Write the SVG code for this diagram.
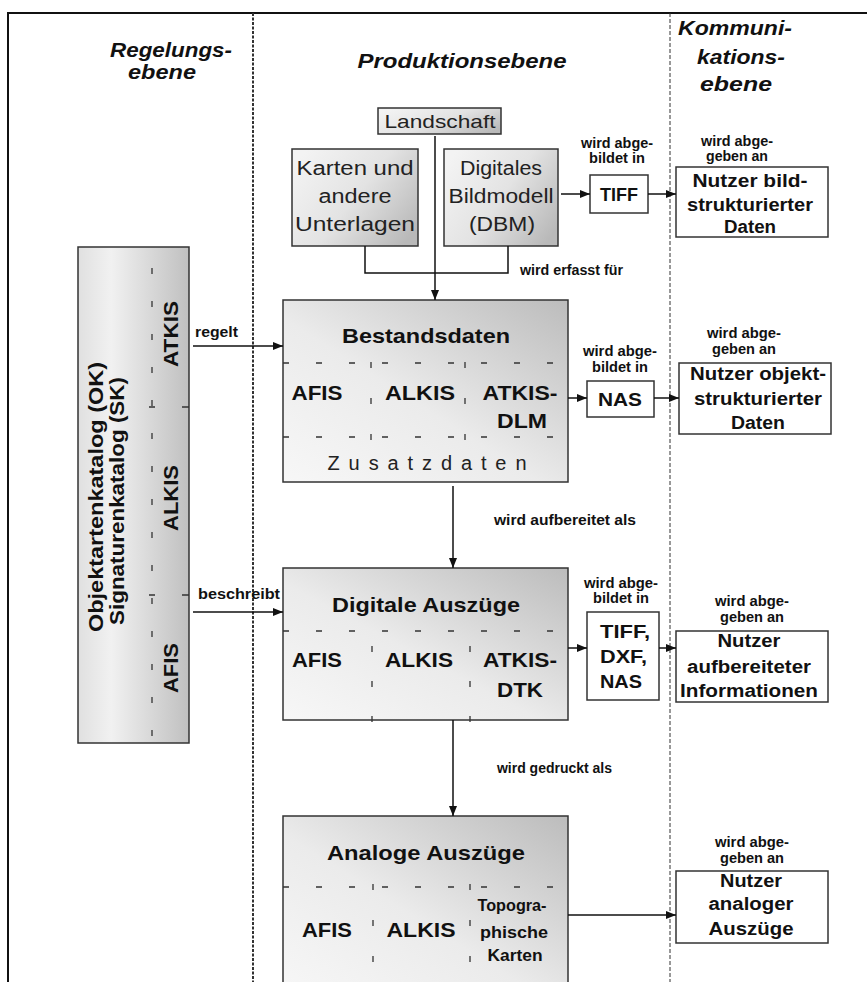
<svg xmlns="http://www.w3.org/2000/svg" width="867" height="982" viewBox="0 0 867 982">
<defs>
<linearGradient id="gDiag" x1="0" y1="1" x2="1" y2="0">
<stop offset="0" stop-color="#f7f7f7"/>
<stop offset="0.45" stop-color="#ebebeb"/>
<stop offset="1" stop-color="#bcbcbc"/>
</linearGradient>
<linearGradient id="gSmall" x1="0" y1="0.2" x2="1" y2="0.8">
<stop offset="0" stop-color="#f3f3f3"/>
<stop offset="0.5" stop-color="#e3e3e3"/>
<stop offset="1" stop-color="#b9b9b9"/>
</linearGradient>
<linearGradient id="gLeft" x1="0" y1="0" x2="1" y2="0">
<stop offset="0" stop-color="#e0e0e0"/>
<stop offset="0.3" stop-color="#f1f1f1"/>
<stop offset="1" stop-color="#c0c0c0"/>
</linearGradient>
<marker id="arr" markerWidth="10" markerHeight="8" refX="10" refY="4" orient="auto" markerUnits="userSpaceOnUse">
<path d="M0,0 L10,4 L0,8 Z" fill="#111"/>
</marker>
</defs>
<style>
text{font-family:'Liberation Sans',Arial,sans-serif;fill:#111}
.hdr{font-size:20px;font-weight:bold;font-style:italic}
.ttl{font-size:21px;font-weight:bold}
.col{font-size:21px;font-weight:bold}
.reg{font-size:20px;fill:#222}
.lbl{font-size:14px;font-weight:bold}
.usr{font-size:18px;font-weight:bold}
.fmt{font-size:19px;font-weight:bold}
.topo{font-size:16px;font-weight:bold}
.box{stroke:#333;stroke-width:1.5}
.w{fill:#fff}
.conn path{fill:none;stroke:#111;stroke-width:1.5}
.dash{fill:none;stroke:#333;stroke-width:1.3;stroke-dasharray:6 27}
.tick{fill:none;stroke:#333;stroke-width:1.3}
</style>
<rect width="867" height="982" fill="#fff"/>
<g id="frame">
<path d="M8 982 V13 H867" fill="none" stroke="#111" stroke-width="2"/>
<path d="M253 13 V982" fill="none" stroke="#333" stroke-width="2" stroke-dasharray="3 1.5"/>
<path d="M670 13 V982" fill="none" stroke="#333" stroke-width="1" stroke-dasharray="4 2"/>
</g>
<g id="headers">
<text class="hdr" x="171" y="57" text-anchor="middle" textLength="122" lengthAdjust="spacingAndGlyphs">Regelungs-</text>
<text class="hdr" x="162" y="79" text-anchor="middle" textLength="68" lengthAdjust="spacingAndGlyphs">ebene</text>
<text class="hdr" x="462" y="68" text-anchor="middle" textLength="209" lengthAdjust="spacingAndGlyphs">Produktionsebene</text>
<text class="hdr" x="735" y="35" text-anchor="middle" textLength="114" lengthAdjust="spacingAndGlyphs">Kommuni-</text>
<text class="hdr" x="741" y="64" text-anchor="middle" textLength="88" lengthAdjust="spacingAndGlyphs">kations-</text>
<text class="hdr" x="736" y="91" text-anchor="middle" textLength="72" lengthAdjust="spacingAndGlyphs">ebene</text>
</g>
<g id="kataloge">
<rect x="78" y="247" width="111" height="496" fill="url(#gLeft)" class="box"/>
<path class="dash" d="M152 268 V748"/>
<path class="tick" d="M182 407 H189 M149 407 H155 M182 595 H189 M149 595 H155"/>
<text class="col" x="103" y="497" text-anchor="middle" transform="rotate(-90 103 497)" textLength="270" lengthAdjust="spacingAndGlyphs">Objektartenkatalog (OK)</text>
<text class="col" x="124" y="501" text-anchor="middle" transform="rotate(-90 124 501)" textLength="248" lengthAdjust="spacingAndGlyphs">Signaturenkatalog (SK)</text>
<text class="col" x="178" y="334" text-anchor="middle" transform="rotate(-90 178 334)" textLength="66" lengthAdjust="spacingAndGlyphs">ATKIS</text>
<text class="col" x="178" y="498" text-anchor="middle" transform="rotate(-90 178 498)" textLength="66" lengthAdjust="spacingAndGlyphs">ALKIS</text>
<text class="col" x="178" y="668" text-anchor="middle" transform="rotate(-90 178 668)" textLength="50" lengthAdjust="spacingAndGlyphs">AFIS</text>
</g>
<g id="landschaft">
<rect x="378" y="108" width="123" height="26" fill="url(#gSmall)" class="box"/>
<text class="reg" style="font-size:19px" x="440" y="128" text-anchor="middle" textLength="111" lengthAdjust="spacingAndGlyphs">Landschaft</text>
</g>
<g id="karten">
<rect x="292" y="149" width="126" height="97" fill="url(#gSmall)" class="box"/>
<text class="reg" x="355" y="175" text-anchor="middle" textLength="117" lengthAdjust="spacingAndGlyphs">Karten und</text>
<text class="reg" x="355" y="203" text-anchor="middle" textLength="73" lengthAdjust="spacingAndGlyphs">andere</text>
<text class="reg" x="355" y="231" text-anchor="middle" textLength="120" lengthAdjust="spacingAndGlyphs">Unterlagen</text>
</g>
<g id="dbm">
<rect x="444" y="149" width="114" height="97" fill="url(#gSmall)" class="box"/>
<text class="reg" x="501" y="175" text-anchor="middle" textLength="82" lengthAdjust="spacingAndGlyphs">Digitales</text>
<text class="reg" x="501" y="203" text-anchor="middle" textLength="105" lengthAdjust="spacingAndGlyphs">Bildmodell</text>
<text class="reg" x="502" y="231" text-anchor="middle" textLength="66" lengthAdjust="spacingAndGlyphs">(DBM)</text>
</g>
<g id="tiff1">
<rect x="590" y="175" width="58" height="38" class="box w"/>
<text class="fmt" x="619" y="201" text-anchor="middle" textLength="38" lengthAdjust="spacingAndGlyphs">TIFF</text>
</g>
<g id="nutzer-bild">
<rect x="676" y="167" width="152" height="70" class="box w"/>
<text class="usr" x="750" y="187" text-anchor="middle" textLength="115" lengthAdjust="spacingAndGlyphs">Nutzer bild-</text>
<text class="usr" x="750" y="211" text-anchor="middle" textLength="126" lengthAdjust="spacingAndGlyphs">strukturierter</text>
<text class="usr" x="750" y="233" text-anchor="middle" textLength="52" lengthAdjust="spacingAndGlyphs">Daten</text>
</g>
<g id="bestandsdaten">
<rect x="283" y="300" width="285" height="182" fill="url(#gDiag)" class="box"/>
<path class="dash" d="M283 363 H568 M283 437 H568"/>
<path class="tick" stroke-dasharray="6 30" d="M371 362 V440 M465 362 V440"/>
<text class="ttl" x="426" y="343" text-anchor="middle" textLength="168" lengthAdjust="spacingAndGlyphs">Bestandsdaten</text>
<text class="col" x="317" y="400" text-anchor="middle" textLength="51" lengthAdjust="spacingAndGlyphs">AFIS</text>
<text class="col" x="420" y="400" text-anchor="middle" textLength="70" lengthAdjust="spacingAndGlyphs">ALKIS</text>
<text class="col" x="520" y="400" text-anchor="middle" textLength="75" lengthAdjust="spacingAndGlyphs">ATKIS-</text>
<text class="col" x="522" y="428" text-anchor="middle" textLength="50" lengthAdjust="spacingAndGlyphs">DLM</text>
<text class="reg" x="427" y="470" text-anchor="middle" textLength="199" lengthAdjust="spacing">Zusatzdaten</text>
</g>
<g id="nas">
<rect x="587" y="381" width="67" height="36" class="box w"/>
<text class="fmt" x="620" y="406" text-anchor="middle" textLength="44" lengthAdjust="spacingAndGlyphs">NAS</text>
</g>
<g id="nutzer-objekt">
<rect x="679" y="363" width="152" height="71" class="box w"/>
<text class="usr" x="758" y="380" text-anchor="middle" textLength="136" lengthAdjust="spacingAndGlyphs">Nutzer objekt-</text>
<text class="usr" x="758" y="405" text-anchor="middle" textLength="128" lengthAdjust="spacingAndGlyphs">strukturierter</text>
<text class="usr" x="758" y="429" text-anchor="middle" textLength="54" lengthAdjust="spacingAndGlyphs">Daten</text>
</g>
<g id="digitale-auszuege">
<rect x="283" y="568" width="285" height="152" fill="url(#gDiag)" class="box"/>
<path class="dash" d="M283 631 H568"/>
<path class="tick" stroke-dasharray="6 29" d="M372 646 V722 M470 646 V722"/>
<text class="ttl" x="426" y="612" text-anchor="middle" textLength="188" lengthAdjust="spacingAndGlyphs">Digitale Auszüge</text>
<text class="col" x="317" y="667" text-anchor="middle" textLength="50" lengthAdjust="spacingAndGlyphs">AFIS</text>
<text class="col" x="419" y="667" text-anchor="middle" textLength="68" lengthAdjust="spacingAndGlyphs">ALKIS</text>
<text class="col" x="520" y="667" text-anchor="middle" textLength="74" lengthAdjust="spacingAndGlyphs">ATKIS-</text>
<text class="col" x="520" y="697" text-anchor="middle" textLength="46" lengthAdjust="spacingAndGlyphs">DTK</text>
</g>
<g id="formate">
<rect x="587" y="612" width="72" height="88" class="box w"/>
<text class="fmt" x="600" y="638" textLength="50" lengthAdjust="spacingAndGlyphs">TIFF,</text>
<text class="fmt" x="600" y="663" textLength="47" lengthAdjust="spacingAndGlyphs">DXF,</text>
<text class="fmt" x="600" y="688" textLength="42" lengthAdjust="spacingAndGlyphs">NAS</text>
</g>
<g id="nutzer-aufbereitet">
<rect x="676" y="631" width="152" height="71" class="box w"/>
<text class="usr" x="749" y="647" text-anchor="middle" textLength="63" lengthAdjust="spacingAndGlyphs">Nutzer</text>
<text class="usr" x="749" y="673" text-anchor="middle" textLength="124" lengthAdjust="spacingAndGlyphs">aufbereiteter</text>
<text class="usr" x="749" y="697" text-anchor="middle" textLength="138" lengthAdjust="spacingAndGlyphs">Informationen</text>
</g>
<g id="analoge-auszuege">
<rect x="283" y="816" width="285" height="180" fill="url(#gDiag)" class="box"/>
<path class="dash" d="M283 887 H568"/>
<path class="tick" stroke-dasharray="6 30" d="M373 884 V964 M470 884 V964"/>
<text class="ttl" x="426" y="860" text-anchor="middle" textLength="198" lengthAdjust="spacingAndGlyphs">Analoge Auszüge</text>
<text class="col" x="327" y="937" text-anchor="middle" textLength="50" lengthAdjust="spacingAndGlyphs">AFIS</text>
<text class="col" x="421" y="937" text-anchor="middle" textLength="69" lengthAdjust="spacingAndGlyphs">ALKIS</text>
<text class="topo" x="512" y="911" text-anchor="middle" textLength="69" lengthAdjust="spacingAndGlyphs">Topogra-</text>
<text class="topo" x="514" y="938" text-anchor="middle" textLength="68" lengthAdjust="spacingAndGlyphs">phische</text>
<text class="topo" x="515" y="961" text-anchor="middle" textLength="55" lengthAdjust="spacingAndGlyphs">Karten</text>
</g>
<g id="nutzer-analog">
<rect x="676" y="871" width="152" height="72" class="box w"/>
<text class="usr" x="751" y="887" text-anchor="middle" textLength="62" lengthAdjust="spacingAndGlyphs">Nutzer</text>
<text class="usr" x="751" y="910" text-anchor="middle" textLength="85" lengthAdjust="spacingAndGlyphs">analoger</text>
<text class="usr" x="751" y="935" text-anchor="middle" textLength="85" lengthAdjust="spacingAndGlyphs">Auszüge</text>
</g>
<g id="connectors" class="conn">
<path d="M435 136 V300" marker-end="url(#arr)"/>
<path d="M365 246 V273 H508 V246"/>
<path d="M561 194 H590" marker-end="url(#arr)"/>
<path d="M648 194 H676" marker-end="url(#arr)"/>
<path d="M193 346 H283" marker-end="url(#arr)"/>
<path d="M193 612 H283" marker-end="url(#arr)"/>
<path d="M568 398 H587" marker-end="url(#arr)"/>
<path d="M654 398 H679" marker-end="url(#arr)"/>
<path d="M453 486 V568" marker-end="url(#arr)"/>
<path d="M568 648 H587" marker-end="url(#arr)"/>
<path d="M659 648 H676" marker-end="url(#arr)"/>
<path d="M453 720 V816" marker-end="url(#arr)"/>
<path d="M568 915 H676" marker-end="url(#arr)"/>
</g>
<g id="connector-labels">
<text class="lbl" x="617" y="148" text-anchor="middle" textLength="72" lengthAdjust="spacingAndGlyphs">wird abge-</text>
<text class="lbl" x="617" y="163" text-anchor="middle" textLength="56" lengthAdjust="spacingAndGlyphs">bildet in</text>
<text class="lbl" x="737" y="146" text-anchor="middle" textLength="72" lengthAdjust="spacingAndGlyphs">wird abge-</text>
<text class="lbl" x="737" y="161" text-anchor="middle" textLength="62" lengthAdjust="spacingAndGlyphs">geben an</text>
<text class="lbl" x="520" y="275" textLength="103" lengthAdjust="spacingAndGlyphs">wird erfasst für</text>
<text class="lbl" x="195" y="337" textLength="43" lengthAdjust="spacingAndGlyphs">regelt</text>
<text class="lbl" x="620" y="356" text-anchor="middle" textLength="74" lengthAdjust="spacingAndGlyphs">wird abge-</text>
<text class="lbl" x="620" y="372" text-anchor="middle" textLength="56" lengthAdjust="spacingAndGlyphs">bildet in</text>
<text class="lbl" x="744" y="338" text-anchor="middle" textLength="74" lengthAdjust="spacingAndGlyphs">wird abge-</text>
<text class="lbl" x="744" y="354" text-anchor="middle" textLength="64" lengthAdjust="spacingAndGlyphs">geben an</text>
<text class="lbl" x="494" y="525" textLength="142" lengthAdjust="spacingAndGlyphs">wird aufbereitet als</text>
<text class="lbl" x="198" y="599" textLength="82" lengthAdjust="spacingAndGlyphs">beschreibt</text>
<text class="lbl" x="621" y="588" text-anchor="middle" textLength="74" lengthAdjust="spacingAndGlyphs">wird abge-</text>
<text class="lbl" x="621" y="603" text-anchor="middle" textLength="56" lengthAdjust="spacingAndGlyphs">bildet in</text>
<text class="lbl" x="752" y="606" text-anchor="middle" textLength="74" lengthAdjust="spacingAndGlyphs">wird abge-</text>
<text class="lbl" x="752" y="622" text-anchor="middle" textLength="64" lengthAdjust="spacingAndGlyphs">geben an</text>
<text class="lbl" x="497" y="773" textLength="115" lengthAdjust="spacingAndGlyphs">wird gedruckt als</text>
<text class="lbl" x="752" y="847" text-anchor="middle" textLength="74" lengthAdjust="spacingAndGlyphs">wird abge-</text>
<text class="lbl" x="752" y="863" text-anchor="middle" textLength="64" lengthAdjust="spacingAndGlyphs">geben an</text>
</g>
</svg>
